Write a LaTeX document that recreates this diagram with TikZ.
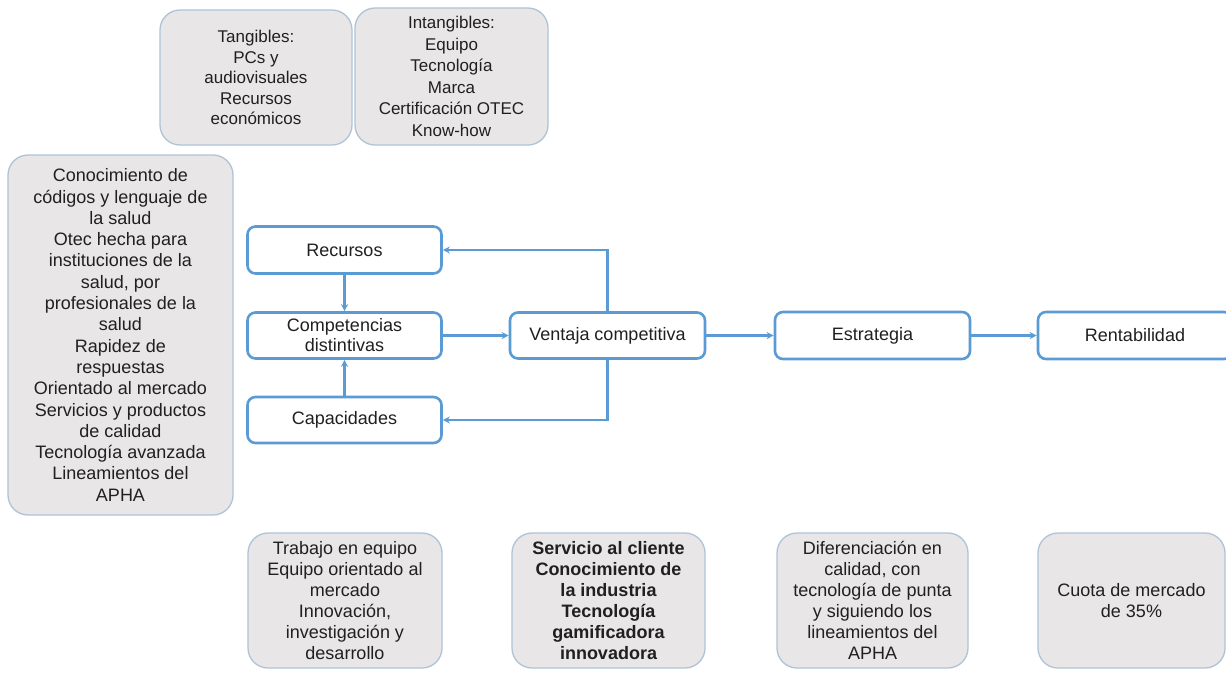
\documentclass[tikz,border=0pt]{standalone}
\usepackage{fontspec}
\setmainfont{Liberation Sans}
\usetikzlibrary{arrows.meta}
\definecolor{flowblue}{HTML}{5B9BD5}
\definecolor{grayfill}{HTML}{E8E6E7}
\definecolor{grayedge}{HTML}{AFC3D8}
\definecolor{txt}{HTML}{202020}
\tikzset{
  graybox/.style={draw=grayedge, line width=1.3pt, fill=grayfill, rounded corners=20pt,
    align=center, inner sep=0pt, text=txt, font=\fontsize{18}{21}\selectfont},
  smallgray/.style={graybox, font=\fontsize{17}{20.5}\selectfont},
  flowbox/.style={draw=flowblue, line width=2.6pt, fill=white, rounded corners=8pt,
    align=center, inner sep=0pt, text=txt, font=\fontsize{18}{20}\selectfont},
  conn/.style={draw=flowblue, line width=2.6pt, -{Stealth[length=7pt,width=7pt]}}
}
\begin{document}
\begin{tikzpicture}[x=1pt,y=-1pt]
\useasboundingbox (0,0) rectangle (1226,675);
\clip (0,0) rectangle (1226,675);
\fill[white] (0,0) rectangle (1226,675);

% top gray boxes
\node[smallgray, minimum width=192pt, minimum height=135pt] (tang) at (256,77.5)
  {Tangibles:\\PCs y\\audiovisuales\\Recursos\\económicos};
\node[smallgray, minimum width=193pt, minimum height=137pt, font=\fontsize{17}{21.5}\selectfont] (intang) at (451.5,76.5)
  {Intangibles:\\Equipo\\Tecnología\\Marca\\Certificación OTEC\\Know-how};

% left gray box
\node[graybox, minimum width=225pt, minimum height=360pt, font=\fontsize{18}{21.3}\selectfont] (left) at (120.5,335)
  {Conocimiento de\\códigos y lenguaje de\\la salud\\Otec hecha para\\instituciones de la\\salud, por\\profesionales de la\\salud\\Rapidez de\\respuestas\\Orientado al mercado\\Servicios y productos\\de calidad\\Tecnología avanzada\\Lineamientos del\\APHA};

% flow boxes
\node[flowbox, minimum width=194pt, minimum height=47pt] (rec) at (344.5,250) {Recursos};
\node[flowbox, minimum width=194pt, minimum height=46pt] (comp) at (344.5,335.5) {Competencias\\distintivas};
\node[flowbox, minimum width=194pt, minimum height=46pt] (cap) at (344.5,420) {Capacidades};
\node[flowbox, minimum width=195pt, minimum height=46pt] (vent) at (607.5,335.5) {Ventaja competitiva};
\node[flowbox, minimum width=195pt, minimum height=47pt] (est) at (872.5,335.5) {Estrategia};
\node[flowbox, minimum width=194pt, minimum height=47pt] (rent) at (1135,335.5) {Rentabilidad};

% connectors
\draw[conn] (rec.south) -- (comp.north);
\draw[conn] (cap.north) -- (comp.south);
\draw[conn] (comp.east) -- (vent.west);
\draw[conn] (vent.north) |- (rec.east);
\draw[conn] (vent.south) |- (cap.east);
\draw[conn] (vent.east) -- (est.west);
\draw[conn] (est.east) -- (rent.west);

% bottom gray boxes
\node[graybox, minimum width=194pt, minimum height=135pt] (trab) at (345,600.5)
  {Trabajo en equipo\\Equipo orientado al\\mercado\\Innovación,\\investigación y\\desarrollo};
\node[graybox, minimum width=193pt, minimum height=135pt, font=\fontsize{18}{21}\selectfont\bfseries] (serv) at (608.5,600.5)
  {Servicio al cliente\\Conocimiento de\\la industria\\Tecnología\\gamificadora\\innovadora};
\node[graybox, minimum width=191pt, minimum height=135pt] (dif) at (872.5,600.5)
  {Diferenciación en\\calidad, con\\tecnología de punta\\y siguiendo los\\lineamientos del\\APHA};
\node[graybox, minimum width=187pt, minimum height=135pt] (cuota) at (1131.5,600.5)
  {Cuota de mercado\\de 35\%};
\end{tikzpicture}
\end{document}
